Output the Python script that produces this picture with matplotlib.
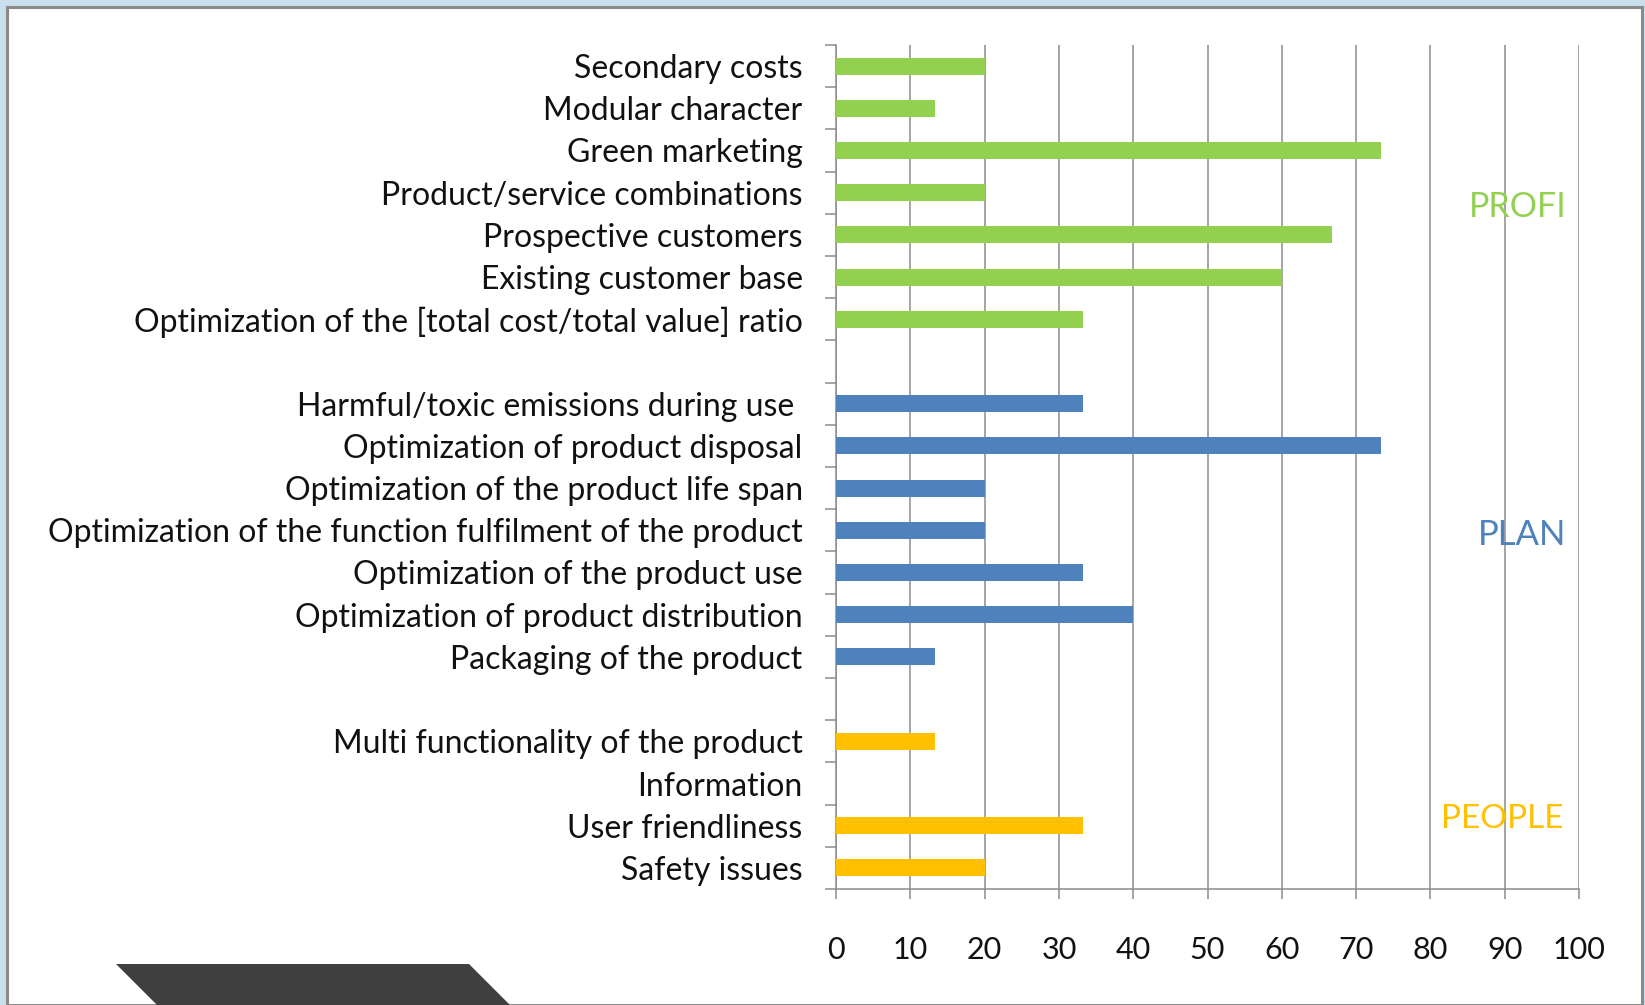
import matplotlib.pyplot as plt
from matplotlib.patches import Rectangle, Polygon
import numpy as np

plt.rcParams['font.family'] = ['Lato', 'DejaVu Sans']

# categories top to bottom, '' = spacer slot
labels = ['Secondary costs', 'Modular character', 'Green marketing',
          'Product/service combinations', 'Prospective customers',
          'Existing customer base',
          'Optimization of the [total cost/total value] ratio', '',
          'Harmful/toxic emissions during use ', 'Optimization of product disposal',
          'Optimization of the product life span',
          'Optimization of the function fulfilment of the product',
          'Optimization of the product use', 'Optimization of product distribution',
          'Packaging of the product', '',
          'Multi functionality of the product', 'Information',
          'User friendliness', 'Safety issues']
values = [20, 13.3, 73.3, 20, 66.7, 60, 33.3, 0,
          33.3, 73.3, 20, 20, 33.3, 40, 13.3, 0,
          13.3, 0, 33.3, 20]
groups = ['profit'] * 8 + ['planet'] * 8 + ['people'] * 4
group_colors = {'profit': '#92D050', 'planet': '#4F81BD', 'people': '#FFC000'}

W, H = 1645, 1005
fig = plt.figure(figsize=(W / 100, H / 100), dpi=100)

# slide frame
fig.patches.append(Rectangle((0, 0), 1, 1, transform=fig.transFigure,
                             facecolor='#C9DFEC', edgecolor='none', zorder=-3))
fig.patches.append(Rectangle((7 / W, 0), 1635 / W, 1 - 7 / H, transform=fig.transFigure,
                             facecolor='white', edgecolor='#8A8A8A', linewidth=2.2, zorder=-2))
fig.patches.append(Polygon([(116 / W, 1 - 964 / H), (469 / W, 1 - 964 / H),
                            (510 / W, 0), (157 / W, 0)], closed=True,
                           transform=fig.transFigure, facecolor='#404040',
                           edgecolor='none', zorder=-1))

ax = fig.add_axes([836 / W, 1 - 889 / H, 743 / W, 844 / H])
ax.set_facecolor('none')

y = np.arange(len(labels))
colors = [group_colors[g] for g in groups]
ax.barh(y, values, height=0.4, color=colors, zorder=3)

ax.set_xlim(0, 100)
ax.set_ylim(len(labels) - 0.5, -0.5)
ax.set_xticks(np.arange(0, 101, 10))
ax.set_yticks(y)
ax.set_yticklabels(labels)
ax.set_yticks(np.arange(-0.5, len(labels), 1), minor=True)

ax.grid(axis='x', color='#8C8C8C', linewidth=1.1, zorder=0)
for s in ['top', 'right']:
    ax.spines[s].set_visible(False)
for s in ['left', 'bottom']:
    ax.spines[s].set_color('#8C8C8C')
    ax.spines[s].set_linewidth(1.1)

ax.tick_params(axis='y', which='major', length=0, pad=24, labelsize=23, labelcolor='#111111')
ax.tick_params(axis='y', which='minor', length=8, width=1.1, color='#8C8C8C')
ax.tick_params(axis='x', which='major', length=7, width=1.1, color='#8C8C8C',
               pad=27, labelsize=22, labelcolor='#111111')

ax.text(98.3, 3.35, 'PROFI', color='#92D050', fontsize=24.5, ha='right', va='center')
ax.text(98.3, 11.1, 'PLAN', color='#4F81BD', fontsize=25, ha='right', va='center')
ax.text(97.9, 17.85, 'PEOPLE', color='#FFC000', fontsize=24, ha='right', va='center')

fig.savefig('out.png', dpi=100)
